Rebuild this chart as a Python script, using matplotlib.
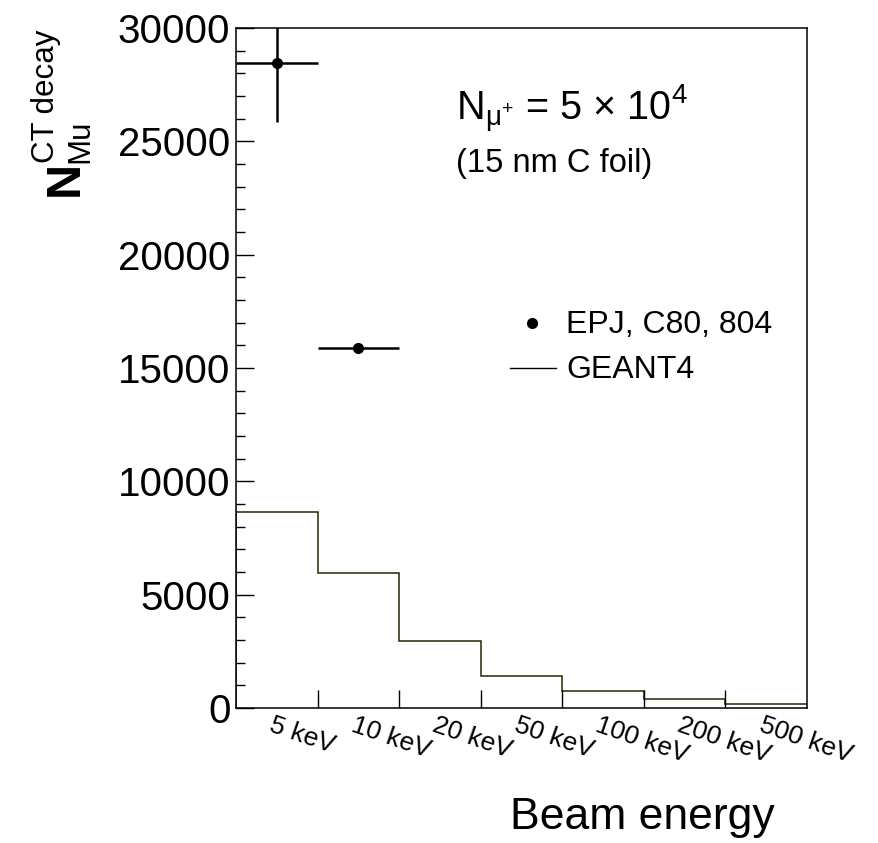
import matplotlib
matplotlib.use('Agg')
import matplotlib.pyplot as plt
import numpy as np

plt.rcParams['font.family'] = ['Liberation Sans', 'DejaVu Sans']
plt.rcParams['mathtext.fontset'] = 'custom'
plt.rcParams['mathtext.rm'] = 'Liberation Sans'
plt.rcParams['mathtext.it'] = 'Liberation Sans:italic'
plt.rcParams['mathtext.bf'] = 'Liberation Sans:bold'

# data
bin_labels = ['5 keV', '10 keV', '20 keV', '50 keV', '100 keV', '200 keV', '500 keV']
geant4_counts = [8650, 5950, 2950, 1400, 760, 390, 160]
epj_bins = [0, 1]
epj_counts = [28450, 15900]
epj_yerr = [2580, 120]

W, H = 879, 843
fig = plt.figure(figsize=(W / 100, H / 100), dpi=100)
ax = fig.add_axes([236 / W, 1 - 708 / H, (807 - 236) / W, (708 - 28) / H])

nb = len(bin_labels)
edges = np.arange(nb + 1)
centers = edges[:-1] + 0.5

# GEANT4 histogram
ax.stairs(geant4_counts, edges, color='#262600', linewidth=1.1, baseline=None)
ax.vlines(edges[0], 0, geant4_counts[0], color='#262600', linewidth=1.1)

# EPJ points
xc = centers[epj_bins]
ax.errorbar(xc, epj_counts, xerr=0.5, yerr=epj_yerr, fmt='o', color='black',
            markersize=7, elinewidth=1.8, capsize=0)

ax.set_xlim(0, nb)
ax.set_ylim(0, 30000)
ax.set_yticks(np.arange(0, 30001, 5000))
ax.set_yticks(np.arange(0, 30001, 1000), minor=True)
ax.set_yticklabels([str(v) for v in range(0, 30001, 5000)], fontsize=29)
ax.set_xticks(edges[1:-1])
ax.set_xticklabels([])
ax.tick_params(axis='both', which='major', direction='in', length=13, width=1,
               top=False, right=False, pad=4)
ax.tick_params(axis='y', which='minor', direction='in', length=6.5, width=1, right=False)
for s in ax.spines.values():
    s.set_linewidth(1.1)

# rotated bin labels
for c, lab in zip(centers, bin_labels):
    ax.text(c - 0.03, -0.008, lab, transform=ax.get_xaxis_transform(),
            ha='left', va='top', rotation=-19, rotation_mode='anchor', fontsize=19)

# axis titles
fig.text(775 / W, 1 - 829 / H, 'Beam energy', ha='right', va='baseline', fontsize=32)
fig.text(78 / W, 1 - 196 / H, 'N', rotation=90, ha='left', va='baseline',
         rotation_mode='anchor', fontsize=35, fontweight='bold')
fig.text(54 / W, 1 - 163 / H, 'CT decay', rotation=90, ha='left', va='baseline',
         rotation_mode='anchor', fontsize=22.5)
fig.text(88 / W, 1 - 163 / H, 'Mu', rotation=90, ha='left', va='baseline',
         rotation_mode='anchor', fontsize=22.5)

# annotations
fig.text(456 / W, 1 - 120 / H, r'N$_{\mathrm{μ}^{+}}$ = 5 $\times$ 10$^{4}$',
         ha='left', va='baseline', fontsize=28.5)
fig.text(456 / W, 1 - 172 / H, '(15 nm C foil)', ha='left', va='baseline', fontsize=23.5)

# legend
fig.lines.append(plt.Line2D([532 / W], [1 - 323 / H], marker='o', color='black',
                            markersize=7, transform=fig.transFigure))
fig.text(566 / W, 1 - 333 / H, 'EPJ, C80, 804', ha='left', va='baseline', fontsize=23)
fig.lines.append(plt.Line2D([510 / W, 556 / W], [1 - 368 / H, 1 - 368 / H], color='black',
                            linewidth=1, transform=fig.transFigure))
fig.text(566 / W, 1 - 378 / H, 'GEANT4', ha='left', va='baseline', fontsize=23)

fig.savefig('out.png', dpi=100)
